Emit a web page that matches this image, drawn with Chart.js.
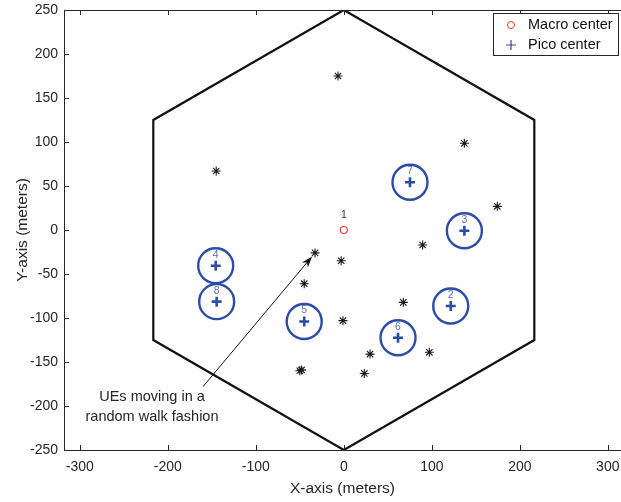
<!DOCTYPE html>
<html>
<head>
<meta charset="utf-8">
<script src="https://cdn.jsdelivr.net/npm/chart.js@4.4.0/dist/chart.umd.min.js"></script>
<style>
  html, body { margin: 0; padding: 0; background: #fff; }
  canvas { display: block; }
</style>
</head>
<body>
<canvas id="netChart" width="621" height="502"></canvas>
<script>
// 六边形小区边界 (半径250m)
const hexX = [0, 216.5, 216.5, 0, -216.5, -216.5, 0];
const hexY = [250, 125, -125, -250, -125, 125, 250];

// 用户位置 (随机游走)
const ueX = [-6.6, -145, 137, 174.4, 89.6, -32.7, -3, -45, -1, 67.6, -50, -48, 29.8, 23.3, 97.2];
const ueY = [175, 67, 98.5, 26.9, -17, -26, -35, -61, -103, -82.2, -160, -159, -141, -163, -139];

// 宏基站与微基站
const macroX = [0];
const macroY = [0];
const macroIds = ['1'];
const picoIds = ['2', '3', '4', '5', '6', '7', '8'];
const picoX = [121.5, 137, -145.6, -45, 61.6, 75.2, -144.5];
const picoY = [-86.4, -0.8, -40.6, -104, -122.4, 54.2, -81.4];

// 坐标轴刻度
const xTicks = [-300, -200, -100, 0, 100, 200, 300];
const yTicks = [-250, -200, -150, -100, -50, 0, 50, 100, 150, 200, 250];

// 标注
const noteLines = ['UEs moving in a', 'random walk fashion'];
const arrowFrom = [-160, -178];
const arrowTo = [-36, -30];

const FONT = "'Liberation Sans', Arial, sans-serif";
const AXIS_COLOR = '#262626';
const BLUE = '#2c4ca6';

const toPts = (xs, ys) => xs.map((x, i) => ({ x: x, y: ys[i] }));

// 自定义绘制: 边框、刻度与刻度标签、编号、箭头、图例
const decorPlugin = {
  id: 'decor',
  afterDatasetsDraw(chart) {
    const { ctx, chartArea: a, scales } = chart;
    const sx = scales.x, sy = scales.y;
    ctx.save();

    // 边框 (右侧被裁掉)
    ctx.strokeStyle = AXIS_COLOR;
    ctx.lineWidth = 1;
    ctx.beginPath();
    ctx.moveTo(a.right, a.top + 0.5);
    ctx.lineTo(a.left + 0.5, a.top + 0.5);
    ctx.lineTo(a.left + 0.5, a.bottom + 0.5);
    ctx.lineTo(a.right, a.bottom + 0.5);
    ctx.stroke();

    // 内向刻度
    ctx.beginPath();
    xTicks.forEach(v => {
      const px = Math.round(sx.getPixelForValue(v)) + 0.5;
      ctx.moveTo(px, a.bottom); ctx.lineTo(px, a.bottom - 5);
      ctx.moveTo(px, a.top); ctx.lineTo(px, a.top + 5);
    });
    yTicks.forEach(v => {
      const py = Math.round(sy.getPixelForValue(v)) + 0.5;
      ctx.moveTo(a.left, py); ctx.lineTo(a.left + 5, py);
    });
    ctx.stroke();

    // 刻度标签
    ctx.font = '14px ' + FONT;
    ctx.fillStyle = AXIS_COLOR;
    ctx.textBaseline = 'middle';
    ctx.textAlign = 'center';
    xTicks.forEach(v => ctx.fillText(String(v), sx.getPixelForValue(v), a.bottom + 17));
    ctx.textAlign = 'right';
    yTicks.forEach(v => ctx.fillText(String(v), a.left - 6, sy.getPixelForValue(v)));

    // 基站编号
    ctx.textAlign = 'center';
    ctx.font = '10.5px ' + FONT;
    ctx.fillStyle = '#333';
    macroIds.forEach((t, i) => {
      ctx.fillText(t, sx.getPixelForValue(macroX[i]), sy.getPixelForValue(macroY[i]) - 15);
    });
    ctx.fillStyle = '#5a72b8';
    picoIds.forEach((t, i) => {
      ctx.fillText(t, sx.getPixelForValue(picoX[i]), sy.getPixelForValue(picoY[i]) - 11);
    });

    // 箭头
    const x0 = sx.getPixelForValue(arrowFrom[0]), y0 = sy.getPixelForValue(arrowFrom[1]);
    const x1 = sx.getPixelForValue(arrowTo[0]), y1 = sy.getPixelForValue(arrowTo[1]);
    const ang = Math.atan2(y1 - y0, x1 - x0);
    ctx.strokeStyle = '#111';
    ctx.lineWidth = 1;
    ctx.beginPath();
    ctx.moveTo(x0, y0);
    ctx.lineTo(x1 - 6 * Math.cos(ang), y1 - 6 * Math.sin(ang));
    ctx.stroke();
    ctx.fillStyle = '#111';
    ctx.beginPath();
    ctx.moveTo(x1, y1);
    ctx.lineTo(x1 - 12 * Math.cos(ang - 0.33), y1 - 12 * Math.sin(ang - 0.33));
    ctx.lineTo(x1 - 8 * Math.cos(ang), y1 - 8 * Math.sin(ang));
    ctx.lineTo(x1 - 12 * Math.cos(ang + 0.33), y1 - 12 * Math.sin(ang + 0.33));
    ctx.closePath();
    ctx.fill();

    // 标注文字
    ctx.font = '14.5px ' + FONT;
    ctx.fillStyle = '#262626';
    noteLines.forEach((t, i) => ctx.fillText(t, 152, 397 + i * 20));

    // 图例
    const lx = 493.5, ly = 13.5, lw = 125, lh = 42;
    ctx.fillStyle = '#fff';
    ctx.fillRect(lx, ly, lw, lh);
    ctx.strokeStyle = '#262626';
    ctx.lineWidth = 1;
    ctx.strokeRect(lx, ly, lw, lh);
    ctx.strokeStyle = '#e8392a';
    ctx.beginPath();
    ctx.arc(511, 25, 3.5, 0, Math.PI * 2);
    ctx.stroke();
    ctx.strokeStyle = BLUE;
    ctx.lineWidth = 1.2;
    ctx.beginPath();
    ctx.moveTo(506, 45); ctx.lineTo(516, 45);
    ctx.moveTo(511, 40); ctx.lineTo(511, 50);
    ctx.stroke();
    ctx.textAlign = 'left';
    ctx.fillStyle = '#111';
    ctx.font = '14.5px ' + FONT;
    ctx.fillText('Macro center', 528, 25);
    ctx.fillText('Pico center', 528, 45);

    ctx.restore();
  }
};

const ctx = document.getElementById('netChart');
new Chart(ctx, {
  type: 'scatter',
  data: {
    datasets: [
      {
        label: 'Cell edge',
        data: toPts(hexX, hexY),
        showLine: true,
        borderColor: '#111',
        borderWidth: 2.2,
        pointRadius: 0,
        fill: false
      },
      {
        label: 'UE',
        data: toPts(ueX, ueY),
        pointStyle: 'star',
        pointRadius: 4.5,
        borderWidth: 1.1,
        borderColor: '#1a1a1a',
        backgroundColor: '#1a1a1a'
      },
      {
        label: 'Macro center',
        data: toPts(macroX, macroY),
        pointStyle: 'circle',
        pointRadius: 3.5,
        borderWidth: 1.1,
        borderColor: '#e8392a',
        backgroundColor: 'rgba(0,0,0,0)'
      },
      {
        label: 'Pico coverage',
        data: toPts(picoX, picoY),
        pointStyle: 'circle',
        pointRadius: 17.5,
        borderWidth: 2.4,
        borderColor: BLUE,
        backgroundColor: 'rgba(0,0,0,0)'
      },
      {
        label: 'Pico center',
        data: toPts(picoX, picoY),
        pointStyle: 'cross',
        pointRadius: 5,
        borderWidth: 2.6,
        borderColor: BLUE,
        backgroundColor: BLUE
      }
    ]
  },
  options: {
    responsive: false,
    animation: false,
    devicePixelRatio: 1,
    layout: { autoPadding: false, padding: { top: 10, right: 0, left: 0, bottom: 0 } },
    plugins: {
      legend: { display: false },
      tooltip: { enabled: false }
    },
    scales: {
      x: {
        type: 'linear',
        min: -318,
        max: 315,
        grid: { display: false, drawTicks: false },
        border: { display: false },
        afterFit: s => { s.height = 52; },
        ticks: { display: false },
        title: {
          display: true,
          text: 'X-axis (meters)',
          color: AXIS_COLOR,
          font: { family: FONT, size: 15.5 },
          padding: { top: 0, bottom: 4 }
        }
      },
      y: {
        type: 'linear',
        min: -250,
        max: 250,
        grid: { display: false, drawTicks: false },
        border: { display: false },
        afterFit: s => { s.width = 64; },
        ticks: { display: false },
        title: {
          display: true,
          text: 'Y-axis (meters)',
          color: AXIS_COLOR,
          font: { family: FONT, size: 15.5 },
          padding: { top: 13, bottom: 0 }
        }
      }
    }
  },
  plugins: [decorPlugin]
});
</script>
</body>
</html>
